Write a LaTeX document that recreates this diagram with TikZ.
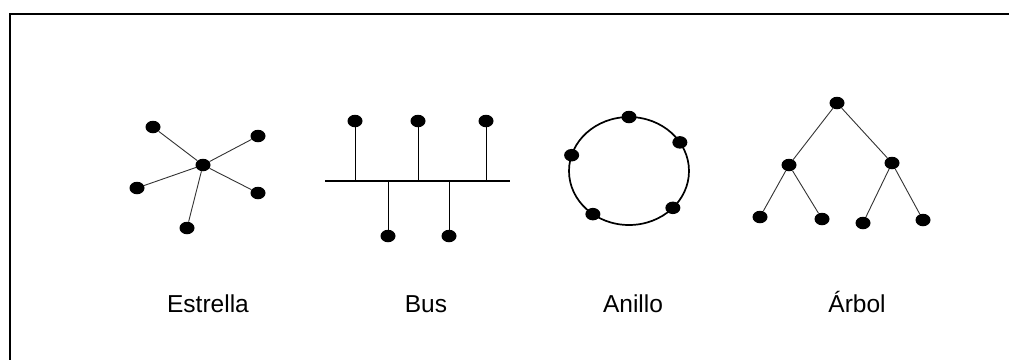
\documentclass[tikz,border=0pt]{standalone}
\usepackage{fontspec}
\setmainfont{Liberation Sans}
\usepackage{tikz}
\usetikzlibrary{shapes.geometric}
\tikzstyle{host} = [ellipse, fill=black, draw=none, minimum width=15pt, minimum height=12.5pt, inner sep=0pt]
\tikzstyle{link} = [line width=0.9pt, draw=black!80]
\tikzstyle{toponame} = [anchor=base, font=\fontsize{24.5}{29}\selectfont]

\begin{document}
\begin{tikzpicture}[x=1pt, y=-1pt]
    \useasboundingbox (0,0) rectangle (1009,360);

    % Frame
    \coordinate (ftr) at (1009,14);
    \coordinate (ftl) at (10,14);
    \coordinate (fbl) at (10,360);
    \draw[line width=2.5pt] (ftr) -- (ftl) -- (fbl);

    % Estrella
    \node[host] (s0) at (203,165) {};
    \node[host] (s1) at (153,127) {};
    \node[host] (s2) at (258,136) {};
    \node[host] (s3) at (137,188) {};
    \node[host] (s4) at (258,193) {};
    \node[host] (s5) at (187,228) {};
    \foreach \n in {1,...,5} \draw[link] (s0) -- (s\n);

    % Bus
    \coordinate (busw) at (325,181);
    \coordinate (buse) at (510,181);
    \draw[link, line width=1.2pt, draw=black] (busw) -- (buse);
    \node[host] (b1) at (355,121) {};
    \node[host] (b2) at (418,121) {};
    \node[host] (b3) at (486,121) {};
    \node[host] (b4) at (388,236) {};
    \node[host] (b5) at (449,236) {};
    \foreach \n in {1,...,5} \draw[link, draw=black] (b\n) -- (b\n |- busw);

    % Anillo
    \coordinate (rc) at (629,171);
    \draw[line width=1.7pt] (rc) ellipse [x radius=60pt, y radius=54pt];
    \node[host] (r1) at ([shift={(90:60pt and 54pt)}]rc) {};
    \node[host] (r2) at ([shift={(32:60pt and 54pt)}]rc) {};
    \node[host] (r3) at ([shift={(163:60pt and 54pt)}]rc) {};
    \node[host] (r4) at ([shift={(233:60pt and 54pt)}]rc) {};
    \node[host] (r5) at ([shift={(-43:60pt and 54pt)}]rc) {};

    % Arbol
    \node[host] (t0) at (837,103) {};
    \node[host] (t1) at (789,165) {};
    \node[host] (t2) at (892,163) {};
    \node[host] (t3) at (760,217) {};
    \node[host] (t4) at (822,219) {};
    \node[host] (t5) at (863,223) {};
    \node[host] (t6) at (923,220) {};
    \draw[link] (t0) -- (t1);
    \draw[link] (t0) -- (t2);
    \draw[link] (t1) -- (t3);
    \draw[link] (t1) -- (t4);
    \draw[link] (t2) -- (t5);
    \draw[link] (t2) -- (t6);

    % Names
    \node[toponame] (nstar) at (208,312) {Estrella};
    \node[toponame] (nbus) at (426,312) {Bus};
    \node[toponame] (nring) at (633,312) {Anillo};
    \node[toponame] (ntree) at (857,312) {Árbol};

\end{tikzpicture}
\end{document}
